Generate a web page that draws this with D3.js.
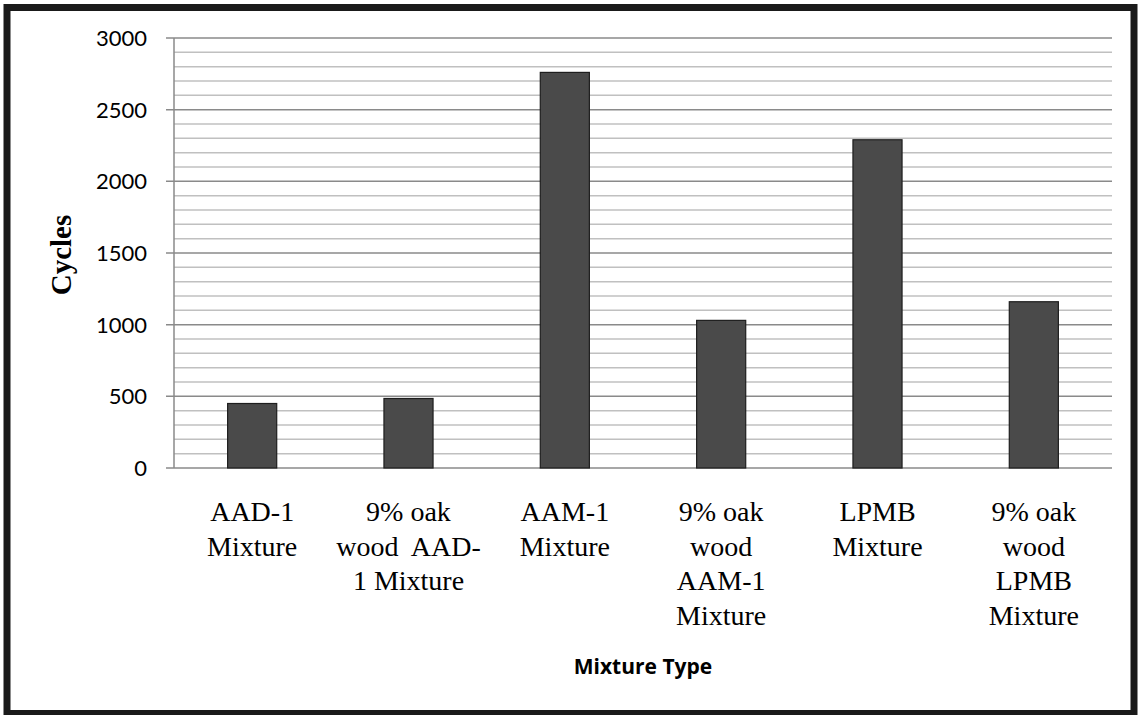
<!DOCTYPE html>
<html>
<head>
<meta charset="utf-8">
<script src="https://cdn.jsdelivr.net/npm/d3@7"></script>
<style>
  body { margin: 0; background: #fff; }
  svg { display: block; }
</style>
</head>
<body>
<script>
// categories, one entry per bar; '\n' marks where the label wraps
const categories = [
  'AAD-1\nMixture',
  '9% oak\nwood  AAD-\n1 Mixture',
  'AAM-1\nMixture',
  '9% oak\nwood\nAAM-1\nMixture',
  'LPMB\nMixture',
  '9% oak\nwood\nLPMB\nMixture',
];
const cycles = [450, 485, 2760, 1030, 2290, 1160];
const majorTicks = [0, 500, 1000, 1500, 2000, 2500, 3000];
const minorTicks = d3.range(0, 3001, 100);

const W = 1138, H = 715;
const margin = { top: 38, right: 26, bottom: 247, left: 174 };

const svg = d3.select('body')
  .append('svg')
  .attr('width', W)
  .attr('height', H);

// outer frame
svg.append('rect')
  .attr('x', 7)
  .attr('y', 7.5)
  .attr('width', W - 11)
  .attr('height', H - 9)
  .attr('fill', 'none')
  .attr('stroke', '#1a1a1a')
  .attr('stroke-width', 7);

const x = d3.scaleBand()
  .domain(categories)
  .range([margin.left, W - margin.right])
  .paddingInner(0.686)
  .paddingOuter(0.343);

const y = d3.scaleLinear()
  .domain([0, 3000])
  .range([H - margin.bottom, margin.top]);

// minor grid, then major grid on top
svg.append('g')
  .selectAll('line')
  .data(minorTicks.filter(d => d % 500 !== 0))
  .enter()
    .append('line')
    .attr('x1', margin.left)
    .attr('x2', W - margin.right)
    .attr('y1', d => y(d))
    .attr('y2', d => y(d))
    .attr('stroke', '#c0c0c0')
    .attr('stroke-width', 1.5);

svg.append('g')
  .selectAll('line')
  .data(majorTicks)
  .enter()
    .append('line')
    .attr('x1', margin.left - 8)
    .attr('x2', W - margin.right)
    .attr('y1', d => y(d))
    .attr('y2', d => y(d))
    .attr('stroke', '#8a8a8a')
    .attr('stroke-width', 1.5);

// y axis line
svg.append('line')
  .attr('x1', margin.left)
  .attr('x2', margin.left)
  .attr('y1', y(3000))
  .attr('y2', y(0))
  .attr('stroke', '#8a8a8a')
  .attr('stroke-width', 1.5);

// bars
svg.append('g')
  .selectAll('rect')
  .data(categories)
  .enter()
    .append('rect')
    .attr('x', d => x(d))
    .attr('y', (d, i) => y(cycles[i]))
    .attr('width', x.bandwidth())
    .attr('height', (d, i) => y(0) - y(cycles[i]))
    .attr('fill', '#4a4a4a')
    .attr('stroke', '#1e1e1e')
    .attr('stroke-width', 1.2);

// y tick labels
svg.append('g')
  .selectAll('text')
  .data(majorTicks)
  .enter()
    .append('text')
    .attr('x', 147)
    .attr('y', d => y(d) + 8)
    .attr('text-anchor', 'end')
    .attr('font-family', 'Lato, "Open Sans", sans-serif')
    .attr('font-size', 22)
    .attr('fill', '#000')
    .text(d => d);

// category labels, wrapped
const labels = svg.append('g')
  .selectAll('text')
  .data(categories)
  .enter()
    .append('text')
    .attr('text-anchor', 'middle')
    .attr('font-family', '"Liberation Serif", "Times New Roman", serif')
    .attr('font-size', 28)
    .attr('fill', '#000');

labels.each(function (d) {
  const t = d3.select(this);
  const cx = x(d) + x.bandwidth() / 2;
  d.split('\n').forEach((line, j) => {
    t.append('tspan')
      .attr('x', cx)
      .attr('y', y(0) + 53 + j * 34.5)
      .attr('xml:space', 'preserve')
      .text(line);
  });
});

// axis titles
svg.append('text')
  .attr('x', (margin.left + W - margin.right) / 2)
  .attr('y', 674)
  .attr('text-anchor', 'middle')
  .attr('font-family', '"Open Sans", sans-serif')
  .attr('font-weight', 'bold')
  .attr('font-size', 21)
  .attr('fill', '#000')
  .text('Mixture Type');

svg.append('text')
  .attr('transform', `translate(71 ${y(1500) + 2}) rotate(-90)`)
  .attr('text-anchor', 'middle')
  .attr('font-family', '"Liberation Serif", "Times New Roman", serif')
  .attr('font-weight', 'bold')
  .attr('font-size', 29)
  .attr('fill', '#000')
  .text('Cycles');
</script>
</body>
</html>
